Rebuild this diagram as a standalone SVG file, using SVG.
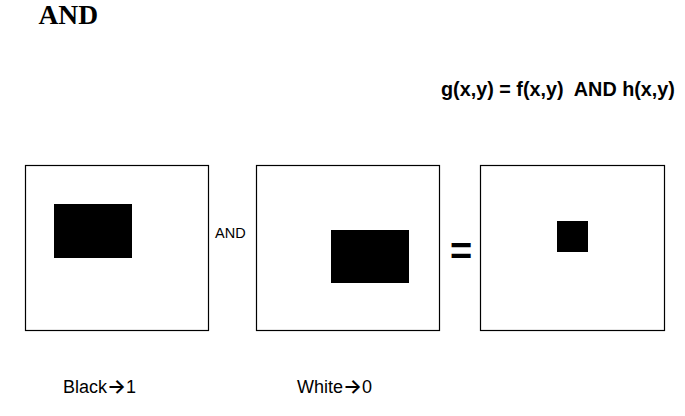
<svg xmlns="http://www.w3.org/2000/svg" width="685" height="416" viewBox="0 0 685 416">
<style>
.frame{fill:#fff;stroke:#000;stroke-width:1.2}
.blk{fill:#000}
.lbl{font-family:"Liberation Sans",Arial,sans-serif;fill:#000}
.arr{font-family:Inter,"DejaVu Sans",sans-serif;font-weight:600}
</style>
<rect width="685" height="416" fill="#fff"/>
<text x="38.5" y="24" font-family="'Liberation Serif','Times New Roman',serif" font-weight="bold" font-size="27.5">AND</text>
<text class="lbl" x="441" y="96" font-weight="bold" font-size="19.8" xml:space="preserve" style="white-space:pre">g(x,y) = f(x,y)  AND h(x,y)</text>
<g id="f">
<rect class="frame" x="25.5" y="165.5" width="183" height="165"/>
<rect class="blk" x="54" y="204" width="78" height="54"/>
</g>
<g id="h">
<rect class="frame" x="256.5" y="165.5" width="183" height="165"/>
<rect class="blk" x="331" y="230" width="78" height="53"/>
</g>
<g id="g">
<rect class="frame" x="480.5" y="165.5" width="184" height="165"/>
<rect class="blk" x="557" y="221" width="31" height="31"/>
</g>
<g id="connectors">
<text class="lbl" x="215" y="238" font-size="14.5">AND</text>
<text class="lbl" x="461" y="263.5" font-size="38" font-weight="bold" text-anchor="middle">=</text>
</g>
<text class="lbl" x="63" y="393" font-size="18">Black<tspan class="arr" font-size="20">→</tspan>1</text>
<text class="lbl" x="297" y="393" font-size="18">White<tspan class="arr" font-size="20">→</tspan>0</text>
</svg>
